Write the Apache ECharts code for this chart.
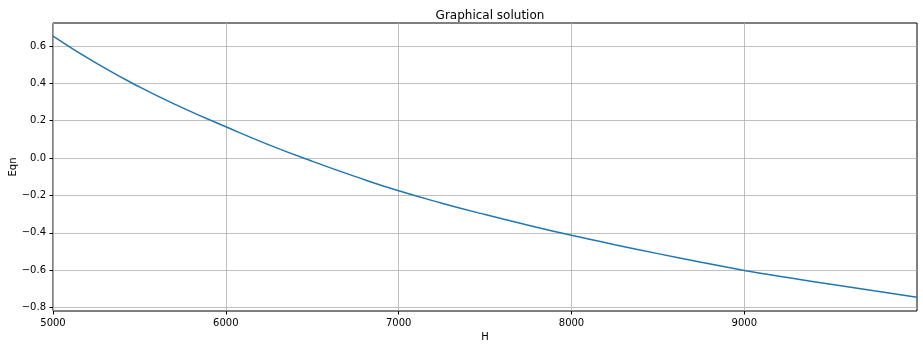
<!DOCTYPE html>
<html>
<head>
<meta charset="utf-8">
<script src="https://cdn.jsdelivr.net/npm/echarts@6/dist/echarts.min.js"></script>
<style>
  html, body { margin: 0; padding: 0; background: #fff; }
  #chart { width: 923px; height: 349px; }
</style>
</head>
<body>
<div id="chart"></div>
<script>
// H values and the equation value
const hValues = [5000, 5250, 5500, 5750, 6000, 6250, 6500, 6750, 7000, 7250,
  7500, 7750, 8000, 8250, 8500, 8750, 9000, 9250, 9500, 9750, 9999];
const eqnValues = [0.653, 0.508, 0.381, 0.269, 0.168, 0.071, -0.017, -0.099, -0.175, -0.241,
  -0.302, -0.359, -0.413, -0.463, -0.511, -0.557, -0.601, -0.639, -0.675, -0.710, -0.745];

const xTicks = [5000, 6000, 7000, 8000, 9000];
const yTicks = [-0.8, -0.6, -0.4, -0.2, 0.0, 0.2, 0.4, 0.6];

const font = 'DejaVu Sans';
const chart = echarts.init(document.getElementById('chart'));

function fmtY(v) {
  return v.toFixed(1).replace('-', '\u2212');
}

chart.setOption({
  animation: false,
  title: {
    text: 'Graphical solution',
    left: 485,
    textAlign: 'center',
    top: 5,
    textStyle: { fontFamily: font, fontSize: 12, fontWeight: 'normal', color: '#000' }
  },
  grid: {
    left: 53, right: 6, top: 23, bottom: 38,
    outerBoundsMode: 'none',
    containLabel: false,
    show: true, borderColor: '#000', borderWidth: 1, backgroundColor: '#fff'
  },
  xAxis: {
    type: 'value',
    min: 5000,
    max: 9999,
    name: 'H',
    nameLocation: 'middle',
    nameGap: 21,
    nameMoveOverlap: false,
    nameTextStyle: { fontFamily: font, fontSize: 10, color: '#000' },
    axisLine: { show: false, onZero: false },
    axisTick: { show: true, length: 3.5, customValues: xTicks, lineStyle: { color: '#000' } },
    axisLabel: {
      customValues: xTicks, margin: 7, formatter: v => String(v),
      fontFamily: font, fontSize: 10, color: '#000'
    },
    splitLine: { show: true, lineStyle: { color: '#b0b0b0', width: 0.8 } }
  },
  yAxis: {
    type: 'value',
    min: -0.818,
    max: 0.723,
    name: 'Eqn',
    nameLocation: 'middle',
    nameRotate: 90,
    nameGap: 35,
    nameMoveOverlap: false,
    nameTextStyle: { fontFamily: font, fontSize: 10, color: '#000' },
    axisLine: { show: false, onZero: false },
    axisTick: { show: true, length: 3.5, customValues: yTicks, lineStyle: { color: '#000' } },
    axisLabel: {
      customValues: yTicks, margin: 7, formatter: fmtY,
      fontFamily: font, fontSize: 10, color: '#000'
    },
    splitLine: { show: true, lineStyle: { color: '#b0b0b0', width: 0.8 } }
  },
  series: [{
    type: 'line',
    data: hValues.map((h, i) => [h, eqnValues[i]]),
    smooth: true,
    showSymbol: false,
    lineStyle: { color: '#1f77b4', width: 1.5 }
  }]
});
</script>
</body>
</html>
